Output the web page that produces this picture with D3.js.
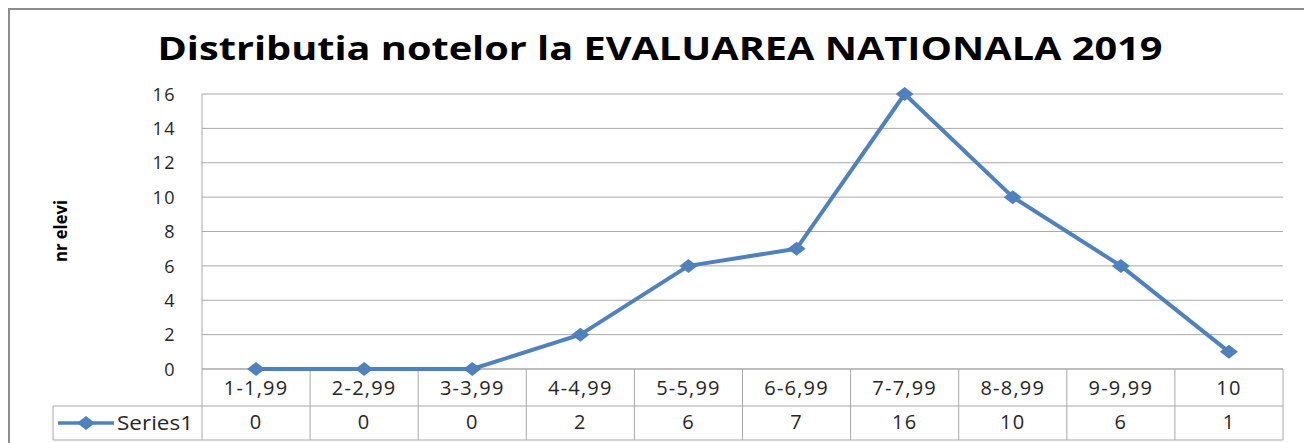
<!DOCTYPE html>
<html>
<head>
<meta charset="utf-8">
<script src="https://cdn.jsdelivr.net/npm/d3@7/dist/d3.min.js"></script>
<style>
  html, body { margin: 0; padding: 0; background: #fff; }
  svg { display: block; }
  text { font-family: "Open Sans", "DejaVu Sans", sans-serif; }
</style>
</head>
<body>
<svg id="chart" width="1304" height="443"></svg>
<script>
const title = "Distributia notelor la EVALUAREA NATIONALA 2019";
const yTitle = "nr elevi";
const categories = ["1-1,99", "2-2,99", "3-3,99", "4-4,99", "5-5,99", "6-6,99", "7-7,99", "8-8,99", "9-9,99", "10"];
const seriesName = "Series1";
const values = [0, 0, 0, 2, 6, 7, 16, 10, 6, 1];
const yTicks = [0, 2, 4, 6, 8, 10, 12, 14, 16];

const svg = d3.select("#chart");
const W = 1304, H = 443;
const plot = { left: 202, right: 1283, top: 94, bottom: 369 };
const rowH1 = 37, rowH2 = 34;
const legendLeft = 53;
const blue = "#4F81BD";
const gridColor = "#A8A8A8";
const textColor = "#262626";

// chart frame
svg.append("rect")
  .attr("x", 9).attr("y", 9).attr("width", W + 10).attr("height", H + 10)
  .attr("fill", "none").attr("stroke", "#8c8c8c").attr("stroke-width", 2);

// title
svg.append("text")
  .attr("x", 660).attr("y", 60)
  .attr("text-anchor", "middle")
  .attr("font-size", 33).attr("font-weight", "bold")
  .attr("fill", "#000")
  .attr("textLength", 1005).attr("lengthAdjust", "spacingAndGlyphs")
  .text(title);

const x = d3.scaleBand().domain(categories).range([plot.left, plot.right]);
const y = d3.scaleLinear().domain([0, 16]).range([plot.bottom, plot.top]);

// horizontal gridlines
svg.append("g")
  .selectAll("line").data(yTicks).join("line")
  .attr("x1", plot.left).attr("x2", plot.right)
  .attr("y1", d => y(d)).attr("y2", d => y(d))
  .attr("stroke", gridColor).attr("stroke-width", 1);

// plot area left edge
svg.append("line")
  .attr("x1", plot.left).attr("x2", plot.left)
  .attr("y1", plot.top).attr("y2", plot.bottom)
  .attr("stroke", gridColor);

// y axis labels
const yAxis = d3.axisLeft(y).tickValues(yTicks).tickSize(0).tickPadding(0).tickFormat(d3.format("d"));
const yg = svg.append("g").attr("transform", `translate(176,0)`).call(yAxis);
yg.select(".domain").remove();
yg.selectAll("text").attr("font-size", 18).attr("fill", textColor)
  .attr("letter-spacing", 1.5)
  .attr("font-family", "'Open Sans', sans-serif").attr("dy", "0.34em");

// y axis title
svg.append("text")
  .attr("transform", `translate(67,231) rotate(-90)`)
  .attr("text-anchor", "middle")
  .attr("font-size", 18).attr("font-weight", "bold")
  .attr("textLength", 62).attr("lengthAdjust", "spacingAndGlyphs")
  .text(yTitle);

// data table
const tbl = svg.append("g");
const tTop = plot.bottom, tMid = plot.bottom + rowH1, tBot = plot.bottom + rowH1 + rowH2;
const cols = categories.map(c => x(c)).concat([plot.right]);
tbl.selectAll("line.v").data(cols).join("line")
  .attr("x1", d => d).attr("x2", d => d)
  .attr("y1", tTop).attr("y2", tBot)
  .attr("stroke", gridColor);
tbl.append("line").attr("x1", legendLeft).attr("x2", legendLeft)
  .attr("y1", tMid).attr("y2", tBot).attr("stroke", gridColor);
tbl.append("line").attr("x1", plot.left).attr("x2", plot.right)
  .attr("y1", tTop).attr("y2", tTop).attr("stroke", gridColor);
tbl.append("line").attr("x1", legendLeft).attr("x2", plot.right)
  .attr("y1", tMid).attr("y2", tMid).attr("stroke", gridColor);
tbl.append("line").attr("x1", legendLeft).attr("x2", plot.right)
  .attr("y1", tBot).attr("y2", tBot).attr("stroke", gridColor);

tbl.selectAll("text.cat").data(categories).join("text")
  .attr("class", "cat")
  .attr("x", d => x(d) + x.bandwidth() / 2).attr("y", tTop + 26)
  .attr("text-anchor", "middle").attr("font-size", 20).attr("fill", textColor)
  .attr("letter-spacing", 1.2)
  .text(d => d);
tbl.selectAll("text.val").data(values).join("text")
  .attr("class", "val")
  .attr("x", (d, i) => x(categories[i]) + x.bandwidth() / 2).attr("y", tMid + 23)
  .attr("text-anchor", "middle").attr("font-size", 20).attr("fill", textColor)
  .attr("letter-spacing", 1.2)
  .text(d => d);

// diamond marker, a little wider than tall
const diamondPath = "M-9,0L0,-7L9,0L0,7Z";

// legend key in the table
tbl.append("line").attr("x1", 58).attr("x2", 114)
  .attr("y1", tMid + 17).attr("y2", tMid + 17)
  .attr("stroke", blue).attr("stroke-width", 3.5);
tbl.append("path").attr("d", diamondPath).attr("fill", blue)
  .attr("transform", `translate(86,${tMid + 17})`);
tbl.append("text").attr("x", 117).attr("y", tMid + 24)
  .attr("font-size", 20).attr("fill", textColor)
  .attr("textLength", 76).attr("lengthAdjust", "spacingAndGlyphs")
  .text(seriesName);

// series line
const line = d3.line()
  .x((d, i) => x(categories[i]) + x.bandwidth() / 2)
  .y(d => y(d));
svg.append("path").datum(values)
  .attr("d", line).attr("fill", "none")
  .attr("stroke", blue).attr("stroke-width", 4).attr("stroke-linejoin", "round");

svg.append("g").selectAll("path").data(values).join("path")
  .attr("d", diamondPath).attr("fill", blue)
  .attr("transform", (d, i) => `translate(${x(categories[i]) + x.bandwidth() / 2},${y(d)})`);
</script>
</body>
</html>
